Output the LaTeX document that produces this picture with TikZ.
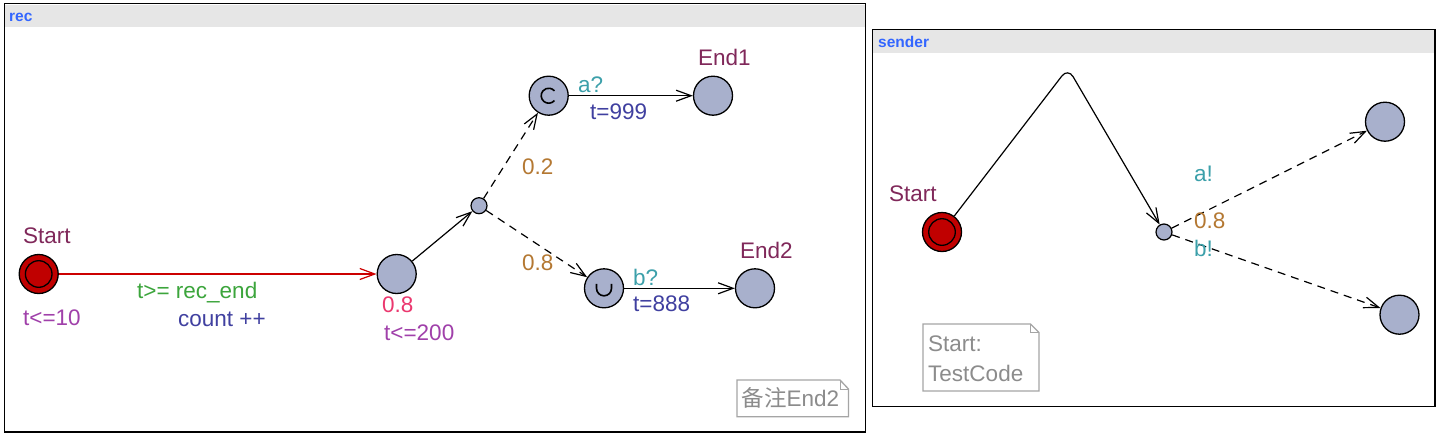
\documentclass[tikz,border=0pt]{standalone}
\usepackage{fontspec}
\setmainfont{Liberation Sans}
\newfontfamily\cjk{Noto Sans CJK SC}
\usetikzlibrary{arrows.meta}
\definecolor{locname}{RGB}{128,40,90}
\definecolor{invc}{RGB}{160,64,170}
\definecolor{guardc}{RGB}{60,165,60}
\definecolor{assignc}{RGB}{64,64,160}
\definecolor{ratec}{RGB}{235,55,110}
\definecolor{probc}{RGB}{180,120,50}
\definecolor{syncc}{RGB}{60,160,170}
\definecolor{locfill}{RGB}{168,176,204}
\definecolor{initfill}{RGB}{192,0,0}
\definecolor{edgered}{RGB}{204,0,0}
\definecolor{titlec}{RGB}{51,102,255}
\definecolor{barc}{RGB}{230,230,230}
\definecolor{notedraw}{RGB}{165,165,165}
\definecolor{notetext}{RGB}{140,140,140}
\tikzset{
  loc/.style={circle,draw=black,fill=locfill,line width=1.3pt,minimum size=39pt,inner sep=0pt},
  initloc/.style={loc,fill=initfill},
  brpt/.style={circle,draw=black,fill=locfill,line width=1.2pt,minimum size=16pt,inner sep=0pt},
  lbl/.style={anchor=base west,inner sep=0pt,font=\fontsize{22.5}{25}\selectfont},
  ttl/.style={anchor=base west,inner sep=0pt,text=titlec,font=\fontsize{15.5}{17}\selectfont\bfseries},
  edge/.style={line width=1.2pt,-{Straight Barb[length=15pt,width=11pt,line width=1.2pt]}},
  dedge/.style={edge,dash pattern=on 8pt off 6pt},
  panel/.style={draw=black,line width=1.3pt},
  note/.style={draw=notedraw,line width=1.3pt},
}
\begin{document}
\begin{tikzpicture}[x=1pt,y=-1pt]
\useasboundingbox (0,0) rectangle (1441,437);
% ---------- rec panel ----------
\fill[white] (4.5,3.5) rectangle (865.5,432);
\fill[barc] (5,4.5) rectangle (865,27);
\draw[panel] (4.5,3.5) rectangle (865.5,432);
\node[ttl] (trec) at (9,21.5) {rec};

\node[initloc] (start) at (38.7,274) {};
\draw[line width=1.3pt] (start.center) circle[radius=13.3];
\node[loc] (n1) at (396.7,274) {};
\node[brpt] (br) at (479,205.7) {};
\node[loc] (cn) at (548.7,95.7) {};
\draw[line width=1.6pt] ([shift={(40:7.5)}]cn.center) arc[start angle=40,end angle=320,radius=7.5];
\node[loc] (end1) at (713,95.7) {};
\node[loc] (un) at (604,288.3) {};
\draw[line width=1.6pt] ([shift={(-7.5,-4.5)}]un.center) -- ++(0,4.5) arc[start angle=180,end angle=0,radius=7.5] -- ++(0,-4.5);
\node[loc] (end2) at (755,288.3) {};

\draw[edge,edgered] (start) -- (n1);
\draw[edge] (n1) -- (br);
\draw[dedge] (br) -- (cn);
\draw[dedge] (br) -- (un);
\draw[edge] (cn) -- (end1);
\draw[edge] (un) -- (end2);

\node[lbl,text=locname] (lstart) at (23,243) {Start};
\node[lbl,text=invc] (linv1) at (23,325) {t<=10};
\node[lbl,text=guardc] (lguard) at (137,298) {t>= rec\_end};
\node[lbl,text=assignc] (lassign) at (178,326) {count ++};
\node[lbl,text=ratec] (lrate) at (382,312) {0.8};
\node[lbl,text=invc] (linv2) at (384,340) {t<=200};
\node[lbl,text=locname] (lend1) at (698,65) {End1};
\node[lbl,text=syncc] (la) at (578,92.7) {a?};
\node[lbl,text=assignc] (l999) at (590,119) {t=999};
\node[lbl,text=probc] (lp2) at (522,174) {0.2};
\node[lbl,text=probc] (lp8) at (522,270) {0.8};
\node[lbl,text=syncc] (lb) at (633,285) {b?};
\node[lbl,text=assignc] (l888) at (633,311.7) {t=888};
\node[lbl,text=locname] (lend2) at (740,258) {End2};

\draw[note,fill=white] (737,380) -- (840,380) -- (848.5,389) -- (848.5,416.7) -- (737,416.7) -- cycle;
\draw[note,line width=1pt] (840,380) -- (840,389) -- (848.5,389);
\node[lbl,text=notetext] (note1) at (741.5,406.7) {{\cjk 备注}End2};

% ---------- sender panel ----------
\fill[white] (872.6,29.3) rectangle (1435,406.7);
\fill[barc] (873.2,30) rectangle (1434.4,52.7);
\draw[panel] (872.6,29.3) rectangle (1435,406.7);
\node[ttl] (tsend) at (878,47.5) {sender};

\node[initloc] (sstart) at (942,232) {};
\draw[line width=1.3pt] (sstart.center) circle[radius=13.3];
\node[brpt] (sbr) at (1164,232) {};
\node[loc] (s1) at (1385,121.7) {};
\node[loc] (s2) at (1399.5,314.7) {};
\coordinate (apex) at (1068,68);

\draw[edge,rounded corners=10pt] (sstart) -- (apex) -- (sbr);
\draw[dedge] (sbr) -- (s1);
\draw[dedge] (sbr) -- (s2);

\node[lbl,text=locname] (lsstart) at (889,201.7) {Start};
\node[lbl,text=syncc] (lsa) at (1194,181.7) {a!};
\node[lbl,text=probc] (lsp) at (1194,228) {0.8};
\node[lbl,text=syncc] (lsb) at (1194,256.7) {b!};

\draw[note,fill=white] (923,324) -- (1030.5,324) -- (1039,332.5) -- (1039,391) -- (923,391) -- cycle;
\draw[note,line width=1pt] (1030.5,324) -- (1030.5,332.5) -- (1039,332.5);
\node[lbl,text=notetext] (note2a) at (928,351.7) {Start:};
\node[lbl,text=notetext] (note2b) at (928,381.7) {TestCode};
\end{tikzpicture}
\end{document}
